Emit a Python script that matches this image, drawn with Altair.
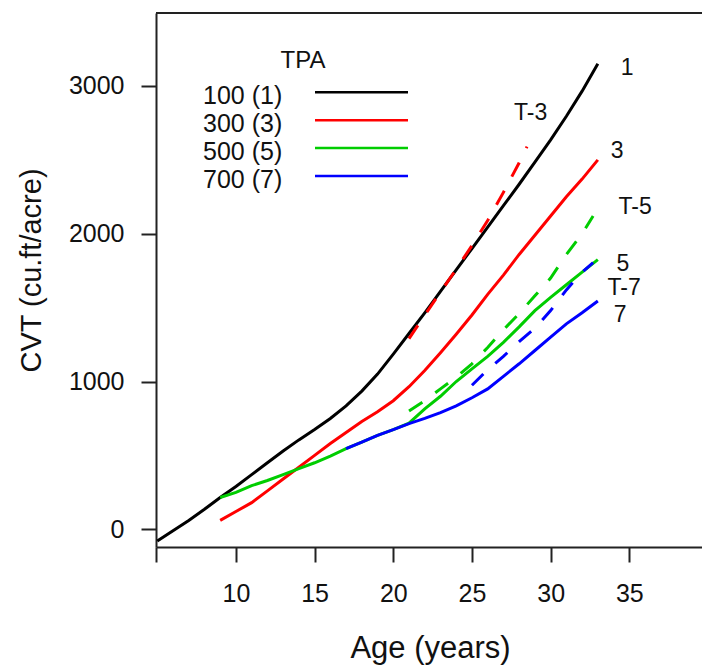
import altair as alt
import pandas as pd

FONT = "Liberation Sans"
TEXT = "#111111"
AXC = "#222222"

# ---- series identity / colours ----
tpa_labels = ["100 (1)", "300 (3)", "500 (5)", "700 (7)"]
tpa_colors = ["#000000", "#FF0000", "#00CD00", "#0000FF"]

# ---- untreated stands (solid) ----
age_1 = list(range(5, 34))
cvt_1 = [-80, -10, 60, 135, 215, 290, 370, 450, 530, 605, 675, 750, 835, 935, 1050,
         1185, 1325, 1465, 1610, 1755, 1900, 2045, 2190, 2335, 2485, 2635, 2795, 2965, 3150]

age_3 = list(range(9, 34))
cvt_3 = [60, 120, 180, 260, 340, 420, 500, 580, 655, 730, 795, 870, 965, 1075, 1195,
         1320, 1450, 1590, 1720, 1860, 1990, 2120, 2250, 2370, 2500]

age_5 = list(range(9, 34))
cvt_5 = [215, 250, 295, 330, 370, 410, 450, 495, 545, 590, 635, 675, 718, 815, 900,
         1000, 1085, 1170, 1265, 1370, 1480, 1570, 1655, 1740, 1825]

age_7 = list(range(17, 34))
cvt_7 = [545, 590, 635, 675, 715, 750, 790, 835, 890, 950, 1035, 1120, 1210, 1300,
         1390, 1465, 1545]

# ---- thinned stands (dashed) ----
age_t3 = [21, 22, 23, 24, 25, 26, 27, 28, 28.5]
cvt_t3 = [1290, 1450, 1605, 1760, 1920, 2090, 2280, 2480, 2590]

age_t5 = [21, 22, 23, 24, 25, 26, 27, 28, 29, 30, 31, 32, 32.7]
cvt_t5 = [800, 870, 950, 1030, 1120, 1230, 1350, 1460, 1580, 1700, 1860, 2000, 2120]

age_t7 = [25, 26, 27, 28, 29, 30, 31, 32, 32.7]
cvt_t7 = [975, 1080, 1170, 1270, 1360, 1480, 1620, 1740, 1805]

# ---- curve annotations ----
ann_text = ["1", "T-3", "3", "T-5", "5", "T-7", "7"]
ann_age = [34.86, 28.73, 34.22, 35.37, 34.60, 34.67, 34.41]
ann_cvt = [3129, 2824, 2567, 2188, 1803, 1640, 1457]

# ---- axes ----
x_domain = [4.92, 39.62]
y_domain = [-120, 3494]
x_ticks = [4.92, 10, 15, 20, 25, 30, 35]
y_ticks = [0, 1000, 2000, 3000]

# ---- build tables ----
rows = []
series = [
    ("1", tpa_labels[0], age_1, cvt_1),
    ("3", tpa_labels[1], age_3, cvt_3),
    ("5", tpa_labels[2], age_5, cvt_5),
    ("7", tpa_labels[3], age_7, cvt_7),
    ("T-3", tpa_labels[1], age_t3, cvt_t3),
    ("T-5", tpa_labels[2], age_t5, cvt_t5),
    ("T-7", tpa_labels[3], age_t7, cvt_t7),
]
for sid, tpa, ages, vals in series:
    for a, v in zip(ages, vals):
        rows.append({"sid": sid, "tpa": tpa, "age": a, "cvt": v})
df = pd.DataFrame(rows)
ann_df = pd.DataFrame({"label": ann_text, "age": ann_age, "cvt": ann_cvt})
leg_df = pd.DataFrame({"label": tpa_labels, "row": list(range(len(tpa_labels)))})
one = pd.DataFrame({"a": [0]})

color_scale = alt.Scale(domain=tpa_labels, range=tpa_colors)

x_enc = alt.X(
    "age:Q",
    scale=alt.Scale(domain=x_domain, nice=False, zero=False),
    axis=alt.Axis(
        values=x_ticks,
        labelExpr="datum.value < 6 ? '' : datum.label",
        title="Age (years)",
        labelPadding=19,
        titleFontSize=31,
        titleX=274,
        titleY=110,
        titleAlign="center",
        titleBaseline="alphabetic",
        labelFlush=False,
        labelOverlap=False,
    ),
)
y_enc = alt.Y(
    "cvt:Q",
    scale=alt.Scale(domain=y_domain, nice=False, zero=False),
    axis=alt.Axis(
        values=y_ticks,
        format="d",
        title="CVT (cu.ft/acre)",
        labelPadding=17,
        titleFontSize=29,
        titleAngle=270,
        titleX=-116,
        titleY=257,
        titleAlign="center",
        titleBaseline="alphabetic",
        labelOverlap=False,
    ),
)
c_enc = alt.Color("tpa:N", scale=color_scale, legend=None)

layers = []
for sid, _, _, _ in series:
    dashed = sid.startswith("T")
    mk = dict(strokeWidth=3)
    if dashed:
        mk["strokeDash"] = [16, 16]
    layers.append(
        alt.Chart(df)
        .transform_filter(alt.datum.sid == sid)
        .mark_line(**mk)
        .encode(x=x_enc, y=y_enc, color=c_enc)
    )

ann = alt.Chart(ann_df).mark_text(
    font=FONT, fontSize=23, color=TEXT, align="center", baseline="middle", dy=1
).encode(x=x_enc, y=y_enc, text="label:N")

top_rule = alt.Chart(one).mark_rule(color=AXC, strokeWidth=2).encode(
    x=alt.value(0), x2=alt.value(546), y=alt.value(0)
)

main = alt.layer(*layers, ann, top_rule)

# ---- hand-drawn legend ----
leg_y = alt.Y("row:Q", scale=alt.Scale(domain=[0, 3], range=[79.3, 163]), axis=None)
leg_rules = alt.Chart(leg_df).mark_rule(strokeWidth=2.5).encode(
    x=alt.value(159), x2=alt.value(252), y=leg_y,
    color=alt.Color("label:N", scale=color_scale, legend=None),
)
leg_text = alt.Chart(leg_df).mark_text(
    font=FONT, fontSize=25, color=TEXT, align="left", baseline="middle", dy=4
).encode(x=alt.value(47), y=leg_y, text="label:N")
leg_title = alt.Chart(one).mark_text(
    text="TPA", font=FONT, fontSize=24, color=TEXT, align="center", baseline="middle"
).encode(x=alt.value(147), y=alt.value(48))

legend = alt.layer(leg_rules, leg_text, leg_title)

chart = (
    alt.layer(main, legend)
    .resolve_scale(y="independent")
    .properties(
        width=546,
        height=534,
        autosize="none",
        padding={"left": 156, "top": 13, "right": 0, "bottom": 122},
        background="white",
    )
    .configure_view(stroke=None)
    .configure_axis(
        grid=False,
        domainColor=AXC,
        domainWidth=2,
        tickColor=AXC,
        tickWidth=2,
        tickSize=15,
        labelFont=FONT,
        labelFontSize=25,
        labelColor=TEXT,
        titleFont=FONT,
        titleFontWeight="normal",
        titleColor=TEXT,
    )
)

chart.save("out.html", embed_options={"renderer": "svg", "actions": False})
